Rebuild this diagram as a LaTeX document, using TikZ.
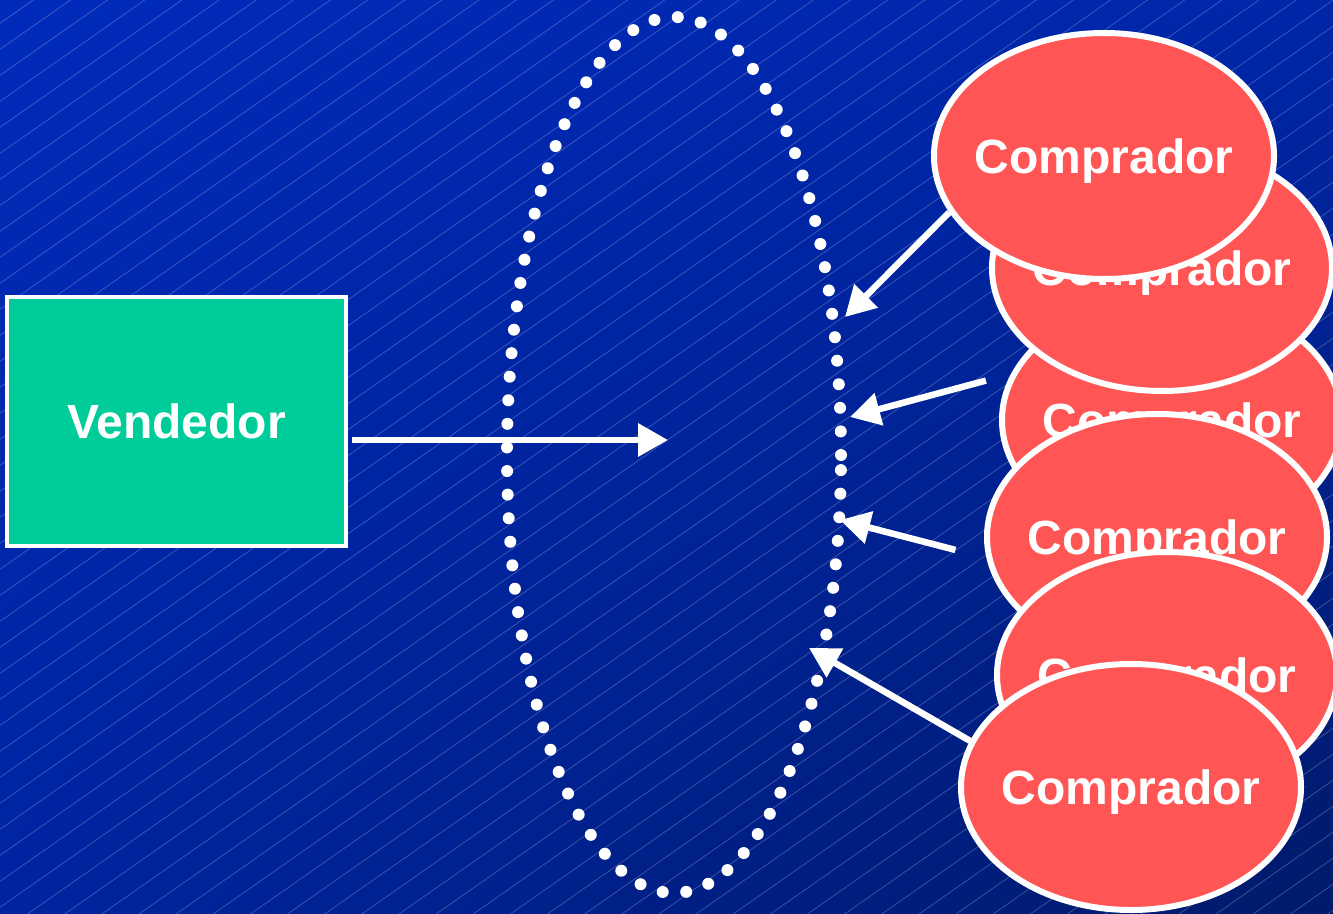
\documentclass[tikz,border=0pt]{standalone}
\usepackage{fontspec}
\setmainfont{Liberation Sans}
\usetikzlibrary{arrows.meta,shapes.geometric,shadings}
\definecolor{buyerred}{RGB}{255,85,85}
\definecolor{sellergreen}{RGB}{0,204,153}
\definecolor{bgtl}{RGB}{0,42,186}
\definecolor{bgtr}{RGB}{0,38,168}
\definecolor{bgbl}{RGB}{0,36,160}
\definecolor{bgbr}{RGB}{0,26,106}
% one buyer: ellipse node #1 at (#2,#3) with its caption
\newcommand\buyernode[3]{%
  \node[buyer] (#1) at (#2,#3) {};
  \node[lbl] (#1t) at (#1) {Comprador};
}
\begin{document}
\begin{tikzpicture}[x=1pt,y=-1pt,
  hatch/.style={line width=0.7pt, white, opacity=0.25},
  buyer/.style={ellipse, draw=white, line width=6pt, fill=buyerred,
    minimum width=340pt, minimum height=246pt, inner sep=0pt},
  lbl/.style={text=white, font=\fontsize{48}{58}\selectfont\bfseries,
    inner sep=0pt, text height=34pt, text depth=0pt},
  seller/.style={rectangle, draw=white, line width=4.5pt, fill=sellergreen,
    minimum width=339pt, minimum height=249pt, inner sep=0pt, text=white,
    font=\fontsize{48}{58}\selectfont\bfseries, text height=34pt, text depth=0pt},
  arr/.style={white, line width=6.5pt, -{Triangle[length=30pt,width=32pt]}},
  ring/.style={ellipse, draw=white, line width=12pt, line cap=round,
    dash pattern=on 0pt off 23.6pt, minimum width=334pt, minimum height=876pt,
    inner sep=0pt}]

\useasboundingbox (0,0) rectangle (1333,913);

% background: diagonal gradient with fine hatching
\shade[upper left=bgtl, upper right=bgtr, lower left=bgbl, lower right=bgbr]
  (0,0) rectangle (1333,913);
\begin{scope}
  \clip (0,0) rectangle (1333,913);
  \foreach \k in {-1,...,71}
    \draw[hatch] (0,23.3+26*\k) -- ++(1333,-933.1);
\end{scope}

% market ring
\node[ring] (market) at (674,455) {};

% seller
\node[seller] (v) at (176.5,421.5) {Vendedor};

% buyers, stacked
\buyernode{c3}{1172}{420}
\buyernode{c2}{1162}{268}
\buyernode{c1}{1104}{156}
\buyernode{c4}{1157}{537}
\buyernode{c5}{1167}{675}
\buyernode{c6}{1131}{787}

% arrows
\coordinate (tip0) at (668,440);
\coordinate (tip1) at (845,317);
\coordinate (tip2) at (850,417);
\coordinate (tip3) at (840,520);
\coordinate (tip4) at (809,648);

\draw[arr, shorten <=4pt] (v.east |- tip0) -- (tip0);
\draw[arr] (c1.200) -- (tip1);
\draw[arr, shorten <=26pt] (c3.164) -- (tip2);
\draw[arr, shorten <=32pt] (c4.187) -- (tip3);
\draw[arr] (c6.164) -- (tip4);
\end{tikzpicture}
\end{document}
